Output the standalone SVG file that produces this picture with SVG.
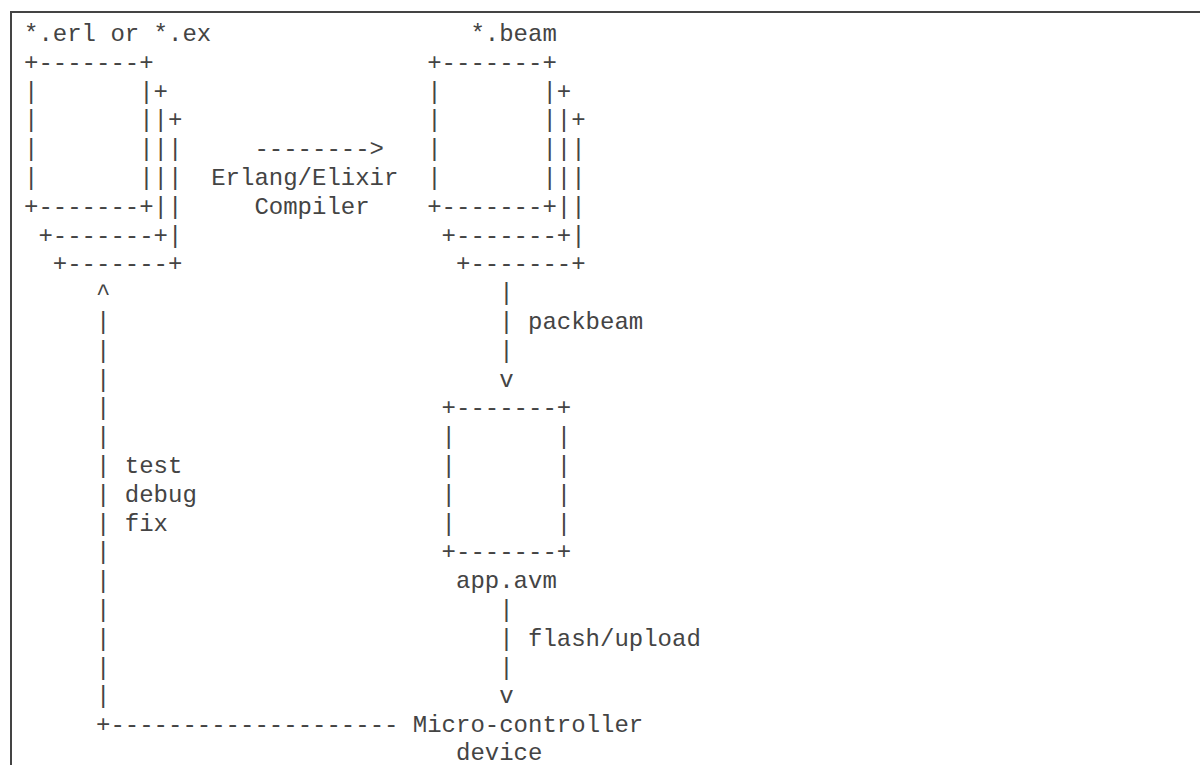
<svg xmlns="http://www.w3.org/2000/svg" width="1200" height="765" viewBox="0 0 1200 765">
<style>
  text { font-family: 'Courier New', 'Liberation Mono', monospace; font-size: 24px; fill: #444; white-space: pre; }
  .frame { fill: none; stroke: #444; stroke-width: 2; }
</style>
<rect x="0" y="0" width="1200" height="765" fill="#fff"/>
<path class="frame" d="M11,765 V12 H1200"/>

<g id="src-files">
  <text x="24" y="41" xml:space="preserve">*.erl or *.ex</text>
  <text x="24" y="69.8" xml:space="preserve">+-------+</text>
  <text x="24" y="98.6" xml:space="preserve">|       |+</text>
  <text x="24" y="127.4" xml:space="preserve">|       ||+</text>
  <text x="24" y="156.2" xml:space="preserve">|       |||</text>
  <text x="24" y="185" xml:space="preserve">|       |||</text>
  <text x="24" y="213.8" xml:space="preserve">+-------+||</text>
  <text x="38.4" y="242.6" xml:space="preserve">+-------+|</text>
  <text x="52.8" y="271.4" xml:space="preserve">+-------+</text>
</g>

<g id="beam-files">
  <text x="470.4" y="41" xml:space="preserve">*.beam</text>
  <text x="427.2" y="69.8" xml:space="preserve">+-------+</text>
  <text x="427.2" y="98.6" xml:space="preserve">|       |+</text>
  <text x="427.2" y="127.4" xml:space="preserve">|       ||+</text>
  <text x="427.2" y="156.2" xml:space="preserve">|       |||</text>
  <text x="427.2" y="185" xml:space="preserve">|       |||</text>
  <text x="427.2" y="213.8" xml:space="preserve">+-------+||</text>
  <text x="441.6" y="242.6" xml:space="preserve">+-------+|</text>
  <text x="456" y="271.4" xml:space="preserve">+-------+</text>
</g>

<g id="app-avm">
  <text x="441.6" y="415.4" xml:space="preserve">+-------+</text>
  <text x="441.6" y="444.2" xml:space="preserve">|       |</text>
  <text x="441.6" y="473" xml:space="preserve">|       |</text>
  <text x="441.6" y="501.8" xml:space="preserve">|       |</text>
  <text x="441.6" y="530.6" xml:space="preserve">|       |</text>
  <text x="441.6" y="559.4" xml:space="preserve">+-------+</text>
  <text x="456" y="588.2" xml:space="preserve">app.avm</text>
</g>

<g id="device">
  <text x="412.8" y="732.2" xml:space="preserve">Micro-controller</text>
  <text x="456" y="760" xml:space="preserve">device</text>
</g>

<g id="connectors">
  <text x="254.4" y="156.2" xml:space="preserve">--------&gt;</text>
  <text x="211.2" y="185" xml:space="preserve">Erlang/Elixir</text>
  <text x="254.4" y="213.8" xml:space="preserve">Compiler</text>

  <text x="499.2" y="300.2" xml:space="preserve">|</text>
  <text x="499.2" y="329" xml:space="preserve">| packbeam</text>
  <text x="499.2" y="357.8" xml:space="preserve">|</text>
  <text x="499.2" y="386.6" xml:space="preserve">v</text>

  <text x="499.2" y="617" xml:space="preserve">|</text>
  <text x="499.2" y="645.8" xml:space="preserve">| flash/upload</text>
  <text x="499.2" y="674.6" xml:space="preserve">|</text>
  <text x="499.2" y="703.4" xml:space="preserve">v</text>

  <text x="96" y="300.2" xml:space="preserve">^</text>
  <text x="96" y="329" xml:space="preserve">|</text>
  <text x="96" y="357.8" xml:space="preserve">|</text>
  <text x="96" y="386.6" xml:space="preserve">|</text>
  <text x="96" y="415.4" xml:space="preserve">|</text>
  <text x="96" y="444.2" xml:space="preserve">|</text>
  <text x="96" y="473" xml:space="preserve">| test</text>
  <text x="96" y="501.8" xml:space="preserve">| debug</text>
  <text x="96" y="530.6" xml:space="preserve">| fix</text>
  <text x="96" y="559.4" xml:space="preserve">|</text>
  <text x="96" y="588.2" xml:space="preserve">|</text>
  <text x="96" y="617" xml:space="preserve">|</text>
  <text x="96" y="645.8" xml:space="preserve">|</text>
  <text x="96" y="674.6" xml:space="preserve">|</text>
  <text x="96" y="703.4" xml:space="preserve">|</text>
  <text x="96" y="732.2" xml:space="preserve">+--------------------</text>
</g>
</svg>
